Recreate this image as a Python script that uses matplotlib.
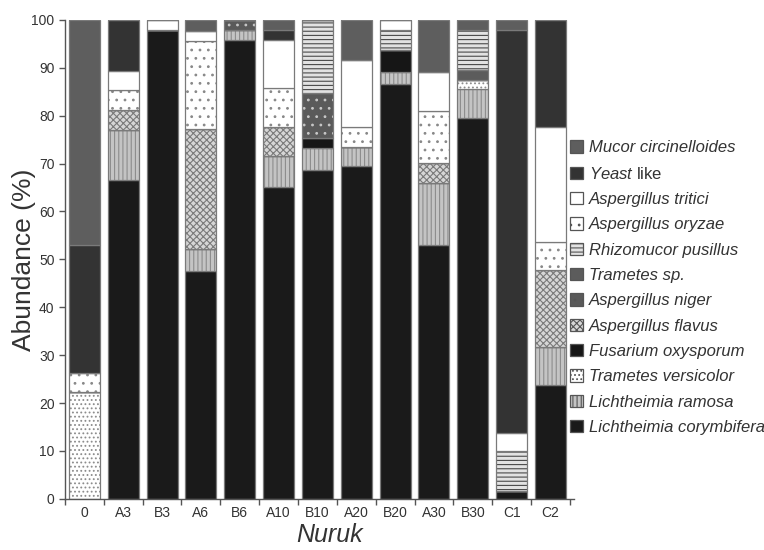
"""
    Stacked abundance bars of fungal species per nuruk sample.
"""

import numpy as np
import matplotlib.pyplot as plt
from matplotlib.patches import Patch

plt.rcParams['font.family'] = ['Liberation Sans', 'DejaVu Sans']
plt.rcParams['mathtext.fontset'] = 'custom'
plt.rcParams['mathtext.it'] = 'Liberation Sans:italic'
plt.rcParams['mathtext.rm'] = 'Liberation Sans'
plt.rcParams['hatch.linewidth'] = 0.8

samples = ["0", "A3", "B3", "A6", "B6", "A10", "B10", "A20", "B20", "A30", "B30", "C1", "C2"]

# stack order, bottom to top
species = [
    "Lichtheimia corymbifera",
    "Lichtheimia ramosa",
    "Trametes versicolor",
    "Fusarium oxysporum",
    "Aspergillus flavus",
    "Aspergillus niger",
    "Trametes sp.",
    "Rhizomucor pusillus",
    "Aspergillus oryzae",
    "Aspergillus tritici",
    "Yeast like",
    "Mucor circinelloides",
]

l_corymbifera = [0, 66.6, 97.9, 47.6, 95.8, 65.2, 68.7, 69.4, 86.6, 53.0, 79.5, 1.7, 23.8]
l_ramosa = [0, 10.3, 0, 4.5, 2.0, 6.3, 4.6, 4.0, 2.4, 12.9, 6.0, 0, 8.0]
t_versicolor = [22.4, 0, 0, 0, 0, 0, 0, 0, 0, 0, 2.0, 0, 0]
f_oxysporum = [0, 0, 0, 0, 0, 0, 2.1, 0, 4.7, 0, 0, 0, 0]
a_flavus = [0, 4.3, 0, 25.1, 0, 6.1, 0, 0, 0, 4.2, 0, 0, 16.0]
a_niger = [0, 0, 0, 0, 2.2, 0, 9.3, 0, 0, 0, 0, 0, 0]
trametes_sp = [0, 0, 0, 0, 0, 0, 0, 0, 0, 0, 2.1, 0, 0]
r_pusillus = [0, 0, 0, 0, 0, 0, 15.3, 0, 4.2, 0, 8.3, 8.2, 0]
a_oryzae = [3.8, 4.2, 0, 18.3, 0, 8.1, 0, 4.2, 0, 10.8, 0, 0, 5.9]
a_tritici = [0, 4.0, 2.1, 2.1, 0, 10.1, 0, 14.0, 2.1, 8.3, 0, 3.8, 24.0]
yeast_like = [26.8, 10.6, 0, 0, 0, 2.1, 0, 0, 0, 0, 0, 84.2, 22.3]
m_circinelloides = [47.0, 0, 0, 2.4, 0, 2.1, 0, 8.4, 0, 10.8, 2.1, 2.1, 0]

values = [l_corymbifera, l_ramosa, t_versicolor, f_oxysporum, a_flavus, a_niger,
          trametes_sp, r_pusillus, a_oryzae, a_tritici, yeast_like, m_circinelloides]

# (face colour, hatch, hatch colour) per species
styles = [
    ("#1a1a1a", None, "#1a1a1a"),
    ("#c4c4c4", "||||", "#8c8c8c"),
    ("#ffffff", "....", "#8c8c8c"),
    ("#161616", None, "#161616"),
    ("#d6d6d6", "xxxxx", "#7a7a7a"),
    ("#5a5a5a", "..", "#c8c8c8"),
    ("#5c5c5c", None, "#5c5c5c"),
    ("#e2e2e2", "----", "#4a4a4a"),
    ("#ffffff", "..", "#888888"),
    ("#ffffff", None, "#ffffff"),
    ("#333333", None, "#333333"),
    ("#5e5e5e", None, "#5e5e5e"),
]

fig = plt.figure(figsize=(7.64, 5.5), dpi=100)
ax = fig.add_axes([0.085, 0.093, 0.666, 0.871])

x = np.arange(len(samples))
width = 0.8
bottom = np.zeros(len(samples))
for vals, (face, hatch, hcol) in zip(values, styles):
    vals = np.array(vals, dtype=float)
    ax.bar(x, vals, width, bottom=bottom, color=face, hatch=hatch,
           edgecolor=hcol, linewidth=0)
    # thin outline for each segment
    ax.bar(x, vals, width, bottom=bottom, fill=False, edgecolor="#7a7a7a",
           linewidth=0.9)
    bottom += vals

ax.set_xlim(-0.5, len(samples) - 0.4)
ax.set_ylim(0, 100)
ax.set_yticks(np.arange(0, 101, 10))
ax.set_xticks(x)
ax.set_xticklabels(samples)
ax.set_xticks(np.arange(-0.5, len(samples), 1), minor=True)
ax.tick_params(axis='x', which='major', length=0, pad=5, labelsize=10, colors="#333333")
ax.tick_params(axis='x', which='minor', length=4, width=1, color="#555555")
ax.tick_params(axis='y', length=4, width=1, labelsize=10, colors="#333333", color="#555555")
for s in ["top", "right"]:
    ax.spines[s].set_visible(False)
for s in ["left", "bottom"]:
    ax.spines[s].set_color("#555555")
    ax.spines[s].set_linewidth(1.0)

ax.set_ylabel("Abundance (%)", fontsize=19, color="#333333")
ax.yaxis.set_label_coords(-0.056, 0.5)
ax.set_xlabel("Nuruk", fontsize=18, fontstyle="italic", color="#333333")
ax.xaxis.set_label_coords(0.52, -0.05)

handles = []
for name, (face, hatch, hcol) in zip(species, styles):
    handles.append(Patch(facecolor=face, hatch=hatch, edgecolor="#555555",
                         linewidth=0.9, label=name))
handles = handles[::-1]
leg = fig.legend(handles=handles, loc="center left", bbox_to_anchor=(0.738, 0.477),
                 frameon=False, prop={"size": 12, "style": "italic"},
                 handlelength=0.75, handleheight=0.75, handletextpad=0.35,
                 labelspacing=0.62, borderaxespad=0)
for t in leg.get_texts():
    t.set_color("#333333")
    if t.get_text() == "Yeast like":
        t.set_text(r"$\mathit{Yeast}$ like")
        t.set_fontstyle("normal")

fig.savefig("out.png", dpi=100)
